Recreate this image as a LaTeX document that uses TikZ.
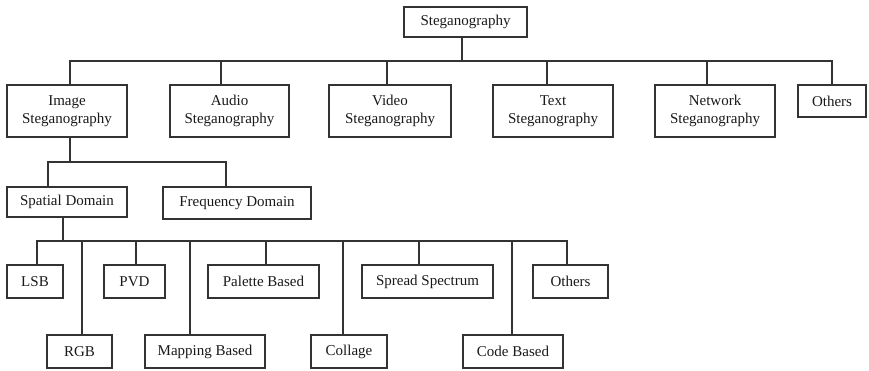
\documentclass[tikz,border=0pt]{standalone}
\usepackage{fontspec}
\setmainfont{Liberation Serif}
\begin{document}
\begin{tikzpicture}[x=1pt,y=-1pt,
  box/.style={draw=black!80, line width=1.2pt, inner sep=0pt, align=center,
    font=\fontsize{15}{18}\selectfont, text=black!90},
  edge/.style={draw=black!80, line width=1.2pt}]
\useasboundingbox (0,0) rectangle (869,370);
% level 0
\node[box, minimum width=123, minimum height=30] (top) at (465.5,22) {Steganography};
% level 1
\node[box, minimum width=120, minimum height=52] (image) at (67,111) {Image\\Steganography};
\node[box, minimum width=119, minimum height=52] (audio) at (229.5,111) {Audio\\Steganography};
\node[box, minimum width=122, minimum height=52] (video) at (390,111) {Video\\Steganography};
\node[box, minimum width=120, minimum height=52] (text) at (553,111) {Text\\Steganography};
\node[box, minimum width=120, minimum height=52] (network) at (715,111) {Network\\Steganography};
\node[box, minimum width=68, minimum height=32] (others1) at (832,101) {Others};
% level 2
\node[box, minimum width=120, minimum height=30] (spatial) at (67,202) {Spatial Domain};
\node[box, minimum width=148, minimum height=32] (freq) at (237,203) {Frequency Domain};
% level 3 row A
\node[box, minimum width=56, minimum height=33] (lsb) at (35,281.5) {LSB};
\node[box, minimum width=61, minimum height=33] (pvd) at (134.5,281.5) {PVD};
\node[box, minimum width=111, minimum height=33] (palette) at (263.5,281.5) {Palette Based};
\node[box, minimum width=131, minimum height=33] (spread) at (427.5,281.5) {Spread Spectrum};
\node[box, minimum width=75, minimum height=33] (others2) at (570.5,281.5) {Others};
% level 3 row B
\node[box, minimum width=65, minimum height=33] (rgb) at (79.5,351.5) {RGB};
\node[box, minimum width=120, minimum height=33] (mapping) at (205,351.5) {Mapping Based};
\node[box, minimum width=76, minimum height=33] (collage) at (349,351.5) {Collage};
\node[box, minimum width=100, minimum height=33] (code) at (513,351.5) {Code Based};
% bus coordinates
\coordinate (b1) at (462,61);
\coordinate (b2) at (70,162);
\coordinate (b3) at (63,241);
% level 0 -> 1
\draw[edge] ([xshift=-3.5]top.south) -- (b1);
\foreach \n/\dx in {image/3, audio/-8.5, video/-3, text/-6, network/-8, others1/0}
  \draw[edge] (b1) -| ([xshift=\dx]\n.north);
% level 1 -> 2
\draw[edge] ([xshift=3]image.south) -- (b2);
\foreach \n/\dx in {spatial/-19, freq/-11}
  \draw[edge] (b2) -| ([xshift=\dx]\n.north);
% level 2 -> 3
\draw[edge] ([xshift=-4]spatial.south) -- (b3);
\foreach \n/\dx in {lsb/2, pvd/1.5, palette/2.5, spread/-8.5, others2/-3.5, rgb/2.5, mapping/-15, collage/-6, code/-1}
  \draw[edge] (b3) -| ([xshift=\dx]\n.north);
\end{tikzpicture}
\end{document}
